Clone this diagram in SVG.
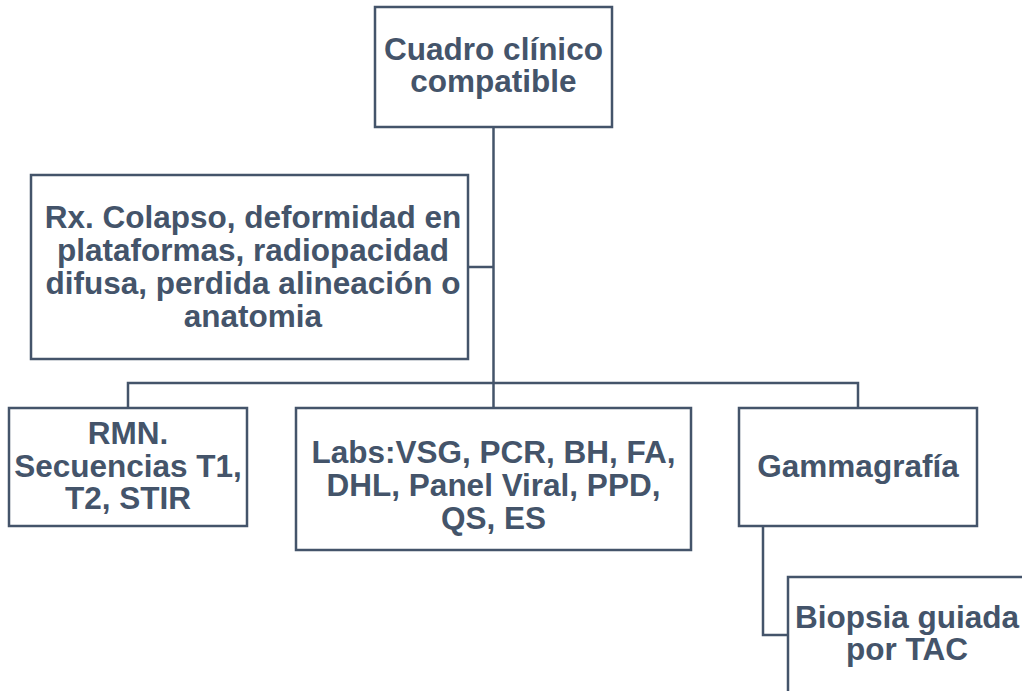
<svg xmlns="http://www.w3.org/2000/svg" width="1022" height="691" viewBox="0 0 1022 691">
<style>
.box{fill:#ffffff;stroke:#44546a;stroke-width:2.5}
.ln{fill:none;stroke:#44546a;stroke-width:2.5}
.t{font-family:"Liberation Sans",Arial,sans-serif;font-weight:bold;font-size:31.5px;fill:#44546a;text-anchor:middle}
</style>
<rect width="1022" height="691" fill="#ffffff"/>
<g id="connectors">
<path class="ln" d="M493.5 127 V383"/>
<path class="ln" d="M468 267 H493.5"/>
<path class="ln" d="M128 408 V383 H858 V408"/>
<path class="ln" d="M493.5 383 V408"/>
<path class="ln" d="M763 526 V635 H788"/>
</g>
<g id="n1">
<rect class="box" x="375" y="7" width="237" height="120"/>
<text class="t" x="493.5" y="60">Cuadro clínico</text>
<text class="t" x="493.5" y="92">compatible</text>
</g>
<g id="n2">
<rect class="box" x="31" y="175" width="437" height="184"/>
<text class="t" x="253" y="228">Rx. Colapso, deformidad en</text>
<text class="t" x="253" y="261">plataformas, radiopacidad</text>
<text class="t" x="253" y="294">difusa, perdida alineación o</text>
<text class="t" x="253" y="327">anatomia</text>
</g>
<g id="n3">
<rect class="box" x="9" y="408" width="238" height="118"/>
<text class="t" x="128" y="444">RMN.</text>
<text class="t" x="128" y="477">Secuencias T1,</text>
<text class="t" x="128" y="509">T2, STIR</text>
</g>
<g id="n4">
<rect class="box" x="296" y="408" width="395" height="142"/>
<text class="t" x="493.5" y="463">Labs:VSG, PCR, BH, FA,</text>
<text class="t" x="493.5" y="496">DHL, Panel Viral, PPD,</text>
<text class="t" x="493.5" y="529">QS, ES</text>
</g>
<g id="n5">
<rect class="box" x="739" y="408" width="238" height="118"/>
<text class="t" x="858" y="477">Gammagrafía</text>
</g>
<g id="n6">
<rect class="box" x="788" y="577" width="238" height="130"/>
<text class="t" x="907" y="628">Biopsia guiada</text>
<text class="t" x="907" y="660">por TAC</text>
</g>
</svg>
